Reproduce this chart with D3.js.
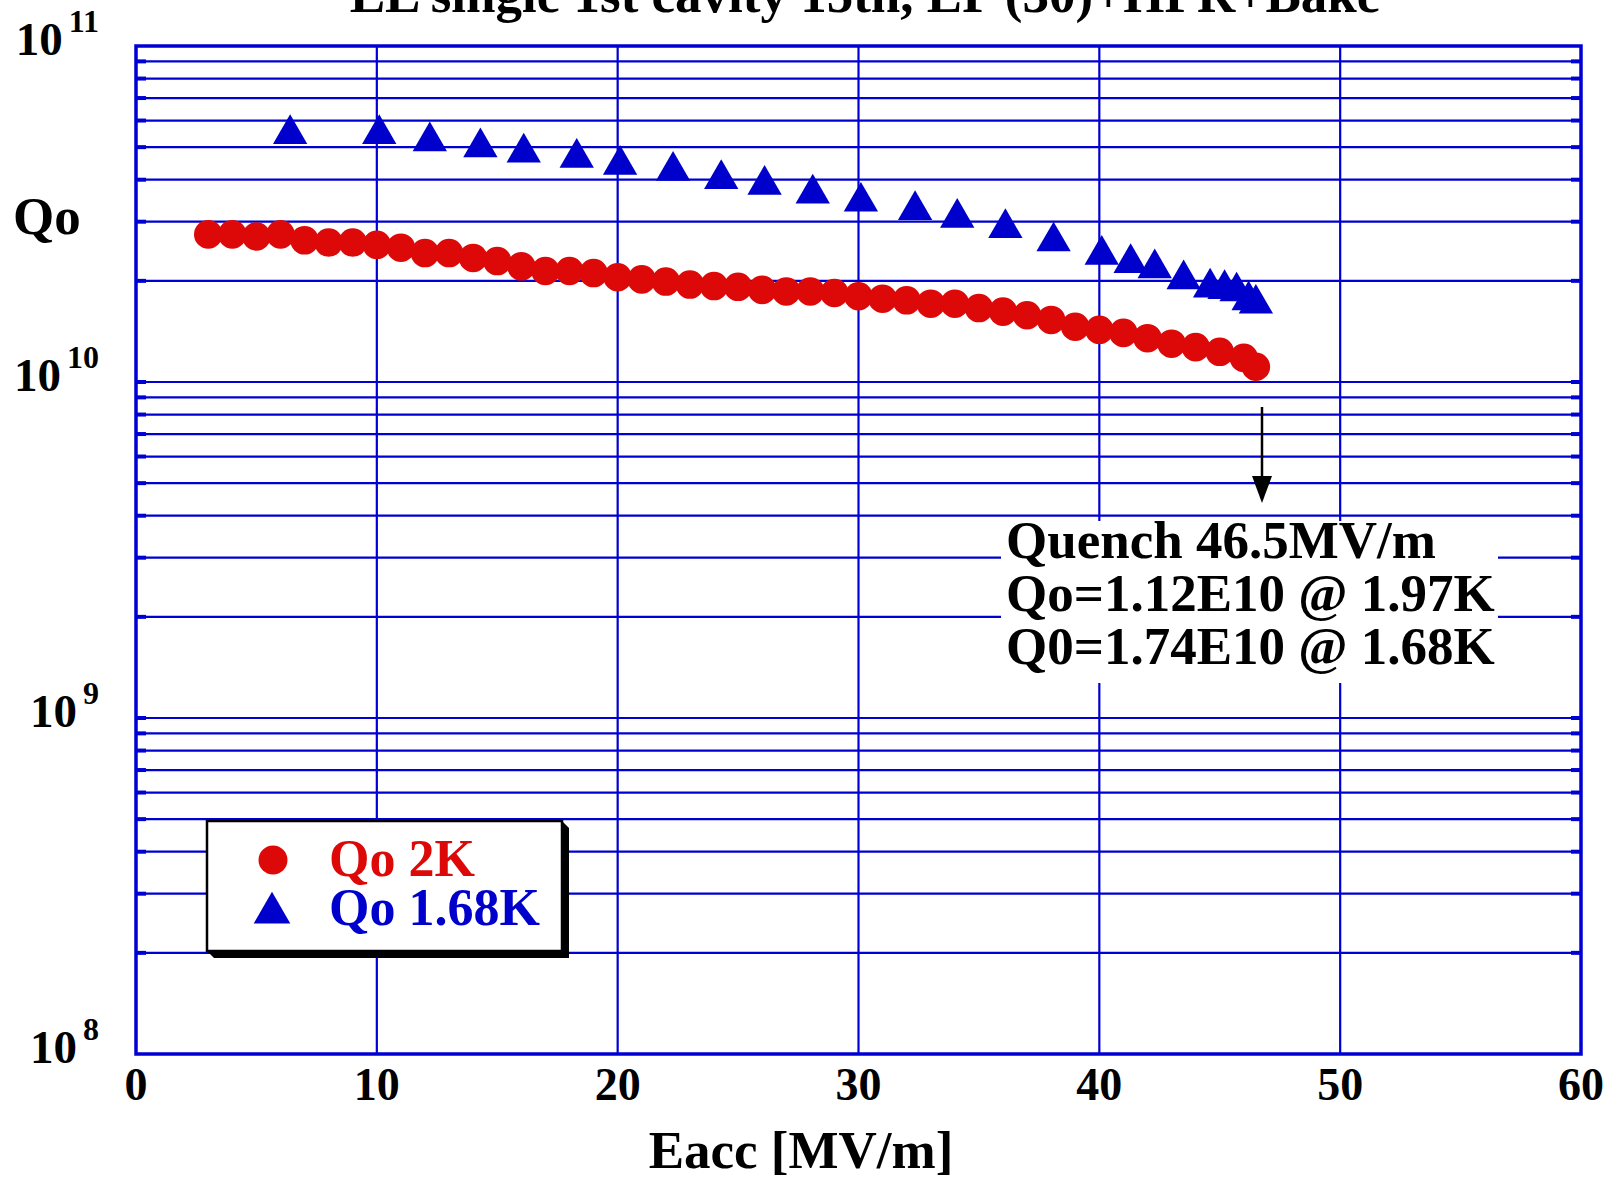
<!DOCTYPE html>
<html><head><meta charset="utf-8">
<script src="https://cdn.jsdelivr.net/npm/d3@7"></script>
<style>html,body{margin:0;padding:0;background:#fff;}svg{display:block;}text{font-family:"Liberation Serif","Times New Roman",serif;font-weight:bold;}</style>
</head><body>
<script>
const titleText = "LL single 1st cavity 15th, EP (30)+HPR+Bake";
const xTicks = [0,10,20,30,40,50,60];
const yDecades = [8,9,10,11];
const e2K = [3,4,5,6,7,8,9,10,11,12,13,14,15,16,17,18,19,20,21,22,23,24,25,26,27,28,29,30,31,32,33,34,35,36,37,38,39,40,41,42,43,44,45,46,46.5];
const q2K = [2.75e10,2.75e10,2.71e10,2.75e10,2.64e10,2.60e10,2.60e10,2.56e10,2.51e10,2.42e10,2.42e10,2.34e10,2.29e10,2.21e10,2.14e10,2.14e10,2.11e10,2.05e10,2.02e10,1.99e10,1.95e10,1.93e10,1.92e10,1.88e10,1.86e10,1.86e10,1.84e10,1.80e10,1.77e10,1.75e10,1.71e10,1.71e10,1.66e10,1.62e10,1.58e10,1.53e10,1.46e10,1.43e10,1.40e10,1.35e10,1.30e10,1.27e10,1.23e10,1.18e10,1.11e10];
const e168 = [6.4,10.1,12.2,14.3,16.1,18.3,20.1,22.3,24.3,26.1,28.1,30.1,32.35,34.1,36.1,38.1,40.1,41.3,42.3,43.5,44.6,45.2,45.7,46.2,46.5];
const q168 = [5.47e10,5.47e10,5.20e10,4.99e10,4.82e10,4.65e10,4.43e10,4.25e10,4.02e10,3.86e10,3.64e10,3.44e10,3.25e10,3.08e10,2.87e10,2.62e10,2.39e10,2.26e10,2.18e10,2.02e10,1.91e10,1.89e10,1.86e10,1.75e10,1.71e10];
const legendLabels = ["Qo 2K","Qo 1.68K"];
const noteLines = ["Quench 46.5MV/m","Qo=1.12E10 @ 1.97K","Q0=1.74E10 @ 1.68K"];

const W=1607,H=1178;
const L=136,R=1581,T=46,B=1054;
const BLUE="#0000d2", RED="#dd0909", MBLUE="#0000cc";
const x=d3.scaleLinear().domain([0,60]).range([L,R]);
const y=d3.scaleLog().domain([1e8,1e11]).range([B,T]);
const svg=d3.select("body").append("svg").attr("width",W).attr("height",H);
svg.append("rect").attr("width",W).attr("height",H).attr("fill","#fff");

// gridlines
const hVals=[];
for(let d=8; d<11; d++) for(let k=1;k<=9;k++){ if(d===8&&k===1) continue; hVals.push(k*Math.pow(10,d)); }
const g=svg.append("g");
g.selectAll("line.h").data(hVals).enter().append("line")
 .attr("x1",L).attr("x2",R).attr("y1",d=>y(d)).attr("y2",d=>y(d))
 .attr("stroke",BLUE).attr("stroke-width",2.2);
g.selectAll("line.v").data(xTicks.filter(v=>v>0&&v<60)).enter().append("line")
 .attr("y1",T).attr("y2",B).attr("x1",d=>x(d)).attr("x2",d=>x(d))
 .attr("stroke",BLUE).attr("stroke-width",2.2);
// tick marks (thicker at axes)
g.selectAll("line.tl").data(hVals).enter().append("line")
 .attr("x1",L).attr("x2",L+10).attr("y1",d=>y(d)).attr("y2",d=>y(d)).attr("stroke",BLUE).attr("stroke-width",4);
g.selectAll("line.tr").data(hVals).enter().append("line")
 .attr("x1",R-10).attr("x2",R).attr("y1",d=>y(d)).attr("y2",d=>y(d)).attr("stroke",BLUE).attr("stroke-width",4);
// frame
svg.append("rect").attr("x",L).attr("y",T).attr("width",R-L).attr("height",B-T)
 .attr("fill","none").attr("stroke",BLUE).attr("stroke-width",3.5);

// annotation white box
svg.append("rect").attr("x",1001).attr("y",521).attr("width",497).attr("height",162).attr("fill","#fff");

// data
const triSym=d3.symbol().type(d3.symbolTriangle).size(510);
const cirSym=d3.symbol().type(d3.symbolCircle).size(640);
svg.append("g").selectAll("path").data(e168.map((e,i)=>[e,q168[i]])).enter().append("path")
 .attr("d",triSym).attr("transform",d=>`translate(${x(d[0])},${y(d[1])})`).attr("fill",MBLUE);
svg.append("g").selectAll("path").data(e2K.map((e,i)=>[e,q2K[i]])).enter().append("path")
 .attr("d",cirSym).attr("transform",d=>`translate(${x(d[0])},${y(d[1])})`).attr("fill",RED);

// title
svg.append("text").attr("x",865).attr("y",12).attr("text-anchor","middle").attr("font-size",53).attr("fill","#000").text(titleText);

// x tick labels
svg.append("g").selectAll("text").data(xTicks).enter().append("text")
 .attr("x",d=>x(d)).attr("y",1100).attr("text-anchor","middle").attr("font-size",46).attr("fill","#000").text(d=>d);
// x title
svg.append("text").attr("x",801).attr("y",1168).attr("text-anchor","middle").attr("font-size",53).attr("fill","#000").text("Eacc [MV/m]");

// y tick labels: 10^n
const yl=svg.append("g");
yDecades.forEach(n=>{
  const yy=y(Math.pow(10,n));
  const t=yl.append("text").attr("x",99).attr("y",yy+9).attr("text-anchor","end").attr("font-size",47).attr("fill","#000");
  t.append("tspan").text("10");
  t.append("tspan").attr("dy",-23).attr("dx",6).attr("font-size",32).text(n);
});
// y title
svg.append("text").attr("x",13).attr("y",234).attr("font-size",53).attr("fill","#000").text("Qo");

// legend
const lx=207,ly=821,lw=355,lh=130,sh=7;
svg.append("path").attr("d",`M${lx+lw},${ly} L${lx+lw+sh},${ly+sh} L${lx+lw+sh},${ly+lh+sh} L${lx+sh},${ly+lh+sh} L${lx},${ly+lh} Z`).attr("fill","#000");
svg.append("rect").attr("x",lx).attr("y",ly).attr("width",lw).attr("height",lh).attr("fill","#fff").attr("stroke","#000").attr("stroke-width",2.5);
svg.append("path").attr("d",d3.symbol().type(d3.symbolCircle).size(660)()).attr("transform","translate(273,860)").attr("fill",RED);
svg.append("path").attr("d",d3.symbol().type(d3.symbolTriangle).size(580)()).attr("transform","translate(272,913)").attr("fill",MBLUE);
svg.append("text").attr("x",329).attr("y",876).attr("font-size",52).attr("fill",RED).text(legendLabels[0]);
svg.append("text").attr("x",329).attr("y",925).attr("font-size",52).attr("fill",MBLUE).text(legendLabels[1]);

// arrow
svg.append("line").attr("x1",1262).attr("x2",1262).attr("y1",407).attr("y2",478).attr("stroke","#000").attr("stroke-width",2.5);
svg.append("path").attr("d","M1252,476 L1272,476 L1262,503 Z").attr("fill","#000");

// note text
svg.append("g").selectAll("text").data(noteLines).enter().append("text")
 .attr("x",1006).attr("y",(d,i)=>558+i*53).attr("font-size",53).attr("fill","#000").text(d=>d);
</script>
</body></html>
